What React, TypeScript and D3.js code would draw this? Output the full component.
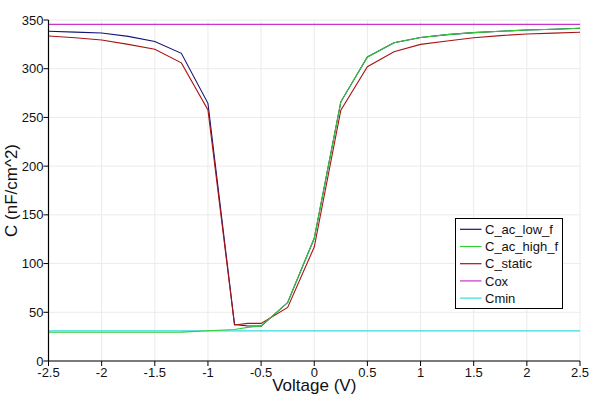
import React from "react";
import * as d3 from "d3";

const voltage = [-2.5, -2.25, -2, -1.75, -1.5, -1.25, -1, -0.75, -0.625, -0.5, -0.25, 0, 0.25, 0.5, 0.75, 1, 1.25, 1.5, 1.75, 2, 2.25, 2.5];
const cLow = [338.4, 337.6, 336.6, 333.2, 328, 315.8, 264.5, 37.5, 36, 35.8, 60, 126, 266, 312, 326.7, 332, 335, 337, 338.5, 339.7, 340.5, 341.5];
const cHigh = [29.5, 29.5, 29.5, 29.5, 29.5, 29.6, 31, 32.3, 34.5, 36, 60, 126, 266, 312, 326.7, 332, 335, 337, 338.5, 339.7, 340.5, 341.5];
const cStatic = [333.6, 331.8, 329.5, 325, 320, 306, 257.6, 37, 38.6, 38.6, 55, 117, 257.5, 302, 317.5, 325, 328.5, 331.8, 334, 335.6, 336.5, 337.4];
const coxValue = 345.5;
const cminValue = 30.9;

const xTicks = [-2.5, -2, -1.5, -1, -0.5, 0, 0.5, 1, 1.5, 2, 2.5];
const yTicks = [0, 50, 100, 150, 200, 250, 300, 350];

const seriesNames = ["C_ac_low_f", "C_ac_high_f", "C_static", "Cox", "Cmin"];
const seriesColors = ["#14147a", "#33cc33", "#a81414", "#cc33cc", "#33dddd"];

const W = 600;
const H = 400;
const M = { left: 48.5, right: 20, top: 20, bottom: 39 };

export default function App() {
  const x = d3.scaleLinear().domain([-2.5, 2.5]).range([M.left, W - M.right]);
  const y = d3.scaleLinear().domain([0, 350]).range([H - M.bottom, M.top]);
  const font = "Liberation Sans, Arial, sans-serif";

  const line = d3
    .line<[number, number]>()
    .x((d) => x(d[0]))
    .y((d) => y(d[1]));

  const mk = (vals: number[]) => voltage.map((v, i) => [v, vals[i]] as [number, number]);
  const flat = (val: number) => [[-2.5, val], [2.5, val]] as [number, number][];

  const paths: { d: string; color: string }[] = [
    { d: line(flat(cminValue)) || "", color: seriesColors[4] },
    { d: line(flat(coxValue)) || "", color: seriesColors[3] },
    { d: line(mk(cLow)) || "", color: seriesColors[0] },
    { d: line(mk(cStatic)) || "", color: seriesColors[2] },
    { d: line(mk(cHigh)) || "", color: seriesColors[1] },
  ];

  const [x0, x1] = x.range();
  const [y0, y1] = y.range();

  const legX = 455.5;
  const legY = 218.5;
  const legW = 107;
  const legH = 90;
  const rowH = 17.2;

  return (
    <svg
      width={W}
      height={H}
      style={{ position: "absolute", left: 0, top: 0, background: "#fff" }}
      fontFamily={font}
    >
      <rect x={0} y={0} width={W} height={H} fill="#fff" />
      {/* grid */}
      {xTicks.map((t) => (
        <line key={"gx" + t} x1={x(t)} x2={x(t)} y1={y1} y2={y0} stroke="#ebebeb" strokeWidth={1} />
      ))}
      {yTicks.map((t) => (
        <line key={"gy" + t} x1={x0} x2={x1} y1={y(t)} y2={y(t)} stroke="#ebebeb" strokeWidth={1} />
      ))}
      {/* series */}
      {paths.map((p, i) => (
        <path key={i} d={p.d} fill="none" stroke={p.color} strokeWidth={1.1} />
      ))}
      {/* axes */}
      <line x1={x0} x2={x1} y1={y0} y2={y0} stroke="#000" strokeWidth={1.2} />
      <line x1={x0} x2={x0} y1={y0} y2={y1} stroke="#000" strokeWidth={1.2} />
      {xTicks.map((t) => (
        <g key={"tx" + t}>
          <line x1={x(t)} x2={x(t)} y1={y0} y2={y0 + 5} stroke="#000" strokeWidth={1} />
          <text x={x(t)} y={y0 + 15.5} fontSize={13} textAnchor="middle" fill="#111">
            {String(t)}
          </text>
        </g>
      ))}
      {yTicks.map((t) => (
        <g key={"ty" + t}>
          <line x1={x0 - 5} x2={x0} y1={y(t)} y2={y(t)} stroke="#000" strokeWidth={1} />
          <text x={x0 - 5} y={y(t) + 4.6} fontSize={13} textAnchor="end" fill="#111">
            {String(t)}
          </text>
        </g>
      ))}
      <text x={(x0 + x1) / 2} y={391} fontSize={17} textAnchor="middle" fill="#111">
        Voltage (V)
      </text>
      <text
        transform={`translate(17, ${(y0 + y1) / 2}) rotate(-90)`}
        fontSize={17}
        textAnchor="middle"
        fill="#111"
      >
        C (nF/cm^2)
      </text>
      {/* legend */}
      <rect x={legX} y={legY} width={legW} height={legH} fill="#fff" stroke="#000" strokeWidth={1} />
      {seriesNames.map((n, i) => {
        const ry = legY + 10.8 + i * rowH;
        return (
          <g key={n}>
            <line x1={legX + 4.5} x2={legX + 26} y1={ry} y2={ry} stroke={seriesColors[i]} strokeWidth={1.2} />
            <text x={legX + 29.5} y={ry + 4.6} fontSize={13} fill="#111">
              {n}
            </text>
          </g>
        );
      })}
    </svg>
  );
}
